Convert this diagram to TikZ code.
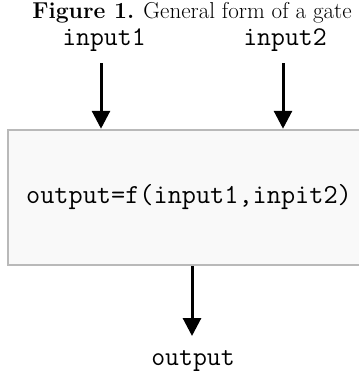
\documentclass[tikz,border=0pt]{standalone}
\usepackage{fontspec}
\usetikzlibrary{arrows.meta, positioning}

\tikzset{
  sig/.style={font=\fontsize{27}{32}\selectfont\ttfamily, anchor=base, inner sep=0pt},
  flow/.style={-{Triangle[width=18pt,length=18pt]}, line width=3pt},
  gate/.style={draw=gray!55, line width=2.5pt, fill=gray!5,
    minimum width=362pt, minimum height=135pt,
    font=\fontsize{27.5}{32}\selectfont\ttfamily}
}

\begin{document}
\begin{tikzpicture}[x=1pt, y=-1pt]
            \useasboundingbox (0,0) rectangle (359,373);
            \clip (0,0) rectangle (359,373);

            \node[anchor=base, inner sep=0pt, font=\fontsize{23}{28}\selectfont] (title) at (192,18)
                {\textbf{Figure 1.} General form of a gate};
            \node[sig] (in1) at (104,45) {input1};
            \node[sig] (in2) at (285,45) {input2};
            \node[gate] (g) at (189,197.5) {output=f(input1,inpit2)};
            \node[sig] (out) at (193,365) {output};

            \coordinate (s1) at (101,63);
            \coordinate (s2) at (283,63);
            \coordinate (e) at (192,336);

            \draw[flow] (s1) -- (s1 |- g.north);
            \draw[flow] (s2) -- (s2 |- g.north);
            \draw[flow] (e |- g.south) -- (e);
        \end{tikzpicture}
\end{document}
